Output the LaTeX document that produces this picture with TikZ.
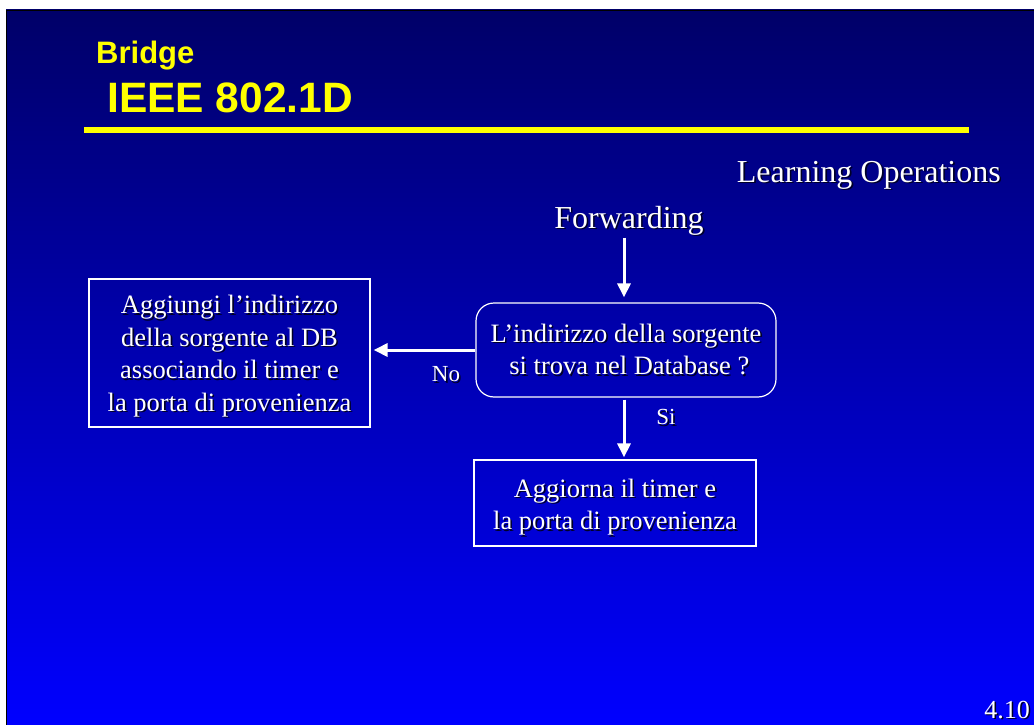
\documentclass[tikz,border=0pt]{standalone}
\usepackage{fontspec}
\setmainfont{Liberation Serif}
\newfontfamily\headfont{Liberation Sans}
\usetikzlibrary{arrows.meta,calc}
\definecolor{slidetop}{RGB}{0,0,104}
\definecolor{slidebot}{RGB}{0,0,255}
\definecolor{headyellow}{RGB}{255,255,0}
\definecolor{shadowc}{RGB}{0,0,40}
% white text with a soft dark drop shadow
\newcommand\shd[1]{\makebox[0pt][l]{\kern1.6pt\raisebox{-1.6pt}{\textcolor{shadowc}{#1}}}#1}
% centred block of lines, drawn #1 lower than its nominal box
\newcommand\boxlines[2]{\raisebox{-#1}[\height][\depth]{\begin{tabular}{@{}c@{}}#2\end{tabular}}}
\tikzset{
  label text/.style={inner sep=0pt, text=white},
  flowbox/.style={draw=white, line width=1.2pt, text=white,
    inner sep=0pt, font=\fontsize{26.5}{32.5}\selectfont},
  flowarrow/.style={draw=white, line width=3pt,
    -{Triangle[length=14pt,width=13pt]}},
}
\begin{document}
\begin{tikzpicture}[x=1pt,y=-1pt]
\useasboundingbox (0,0) rectangle (1034,725);
\fill[white] (0,0) rectangle (1034,725);
% slide background
\shade[top color=slidetop, bottom color=slidebot, draw=black, line width=0.8pt]
  (6,10) rectangle (1034,725);
% title
\node[anchor=base west, inner sep=0pt, text=headyellow,
  font=\headfont\bfseries\fontsize{31}{36}\selectfont] (t1) at (96,64) {Bridge};
\node[anchor=base west, inner sep=0pt, text=headyellow,
  font=\headfont\bfseries\fontsize{42.5}{48}\selectfont] (t2) at (107,113) {IEEE 802.1D};
\fill[headyellow] (84,127) rectangle (969,133);
% section heading
\node[label text, anchor=base east, font=\fontsize{32}{38}\selectfont] (sec)
  at (1001,182) {\shd{Learning Operations}};
\node[label text, anchor=base, font=\fontsize{32}{38}\selectfont] (forw)
  at (629,228) {\shd{Forwarding}};
% flowchart boxes
\node[flowbox, rounded corners=18pt, minimum width=300pt, minimum height=94pt]
  (dec) at (626,350) {\boxlines{2pt}{\shd{L’indirizzo della sorgente}\\\shd{\ si trova nel Database ?}}};
\node[flowbox, minimum width=281pt, minimum height=148pt] (add) at (229.5,353)
  {\boxlines{3pt}{\shd{Aggiungi l’indirizzo}\\\shd{della sorgente al DB}\\\shd{associando il timer e}\\\shd{la porta di provenienza}}};
\node[flowbox, minimum width=282pt, minimum height=86pt] (upd) at (615,503)
  {\boxlines{4pt}{\shd{Aggiorna il timer e}\\\shd{la porta di provenienza}}};
% connectors
\coordinate (ax) at (624,0);
\draw[flowarrow, shorten <=1pt, shorten >=5pt] (forw.south -| ax) -- (dec.north -| ax);
\draw[flowarrow, shorten >=3pt] (dec.west) -- (add.east |- dec.west);
\draw[flowarrow, shorten <=2pt, shorten >=2pt] (dec.south -| ax) -- (upd.north -| ax);
\node[label text, font=\fontsize{23}{27}\selectfont] (no) at (446,375) {\shd{No}};
\node[label text, font=\fontsize{23}{27}\selectfont] (si) at (666,418) {\shd{Si}};
% page number
\node[label text, anchor=base east, font=\fontsize{26}{30}\selectfont] (pg)
  at (1030,718) {\shd{4.10}};
\end{tikzpicture}
\end{document}
